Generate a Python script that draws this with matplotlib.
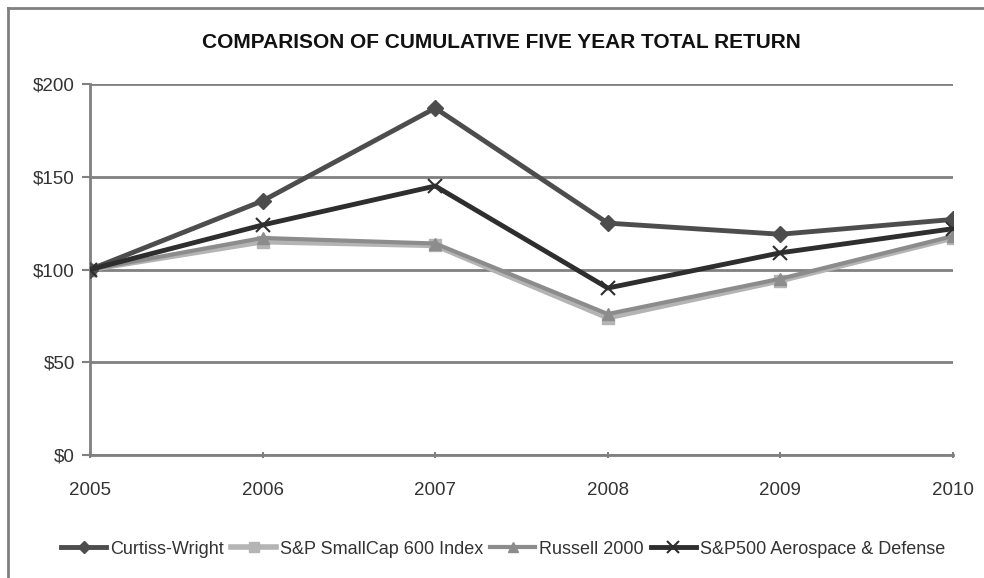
import matplotlib
matplotlib.use("Agg")
import matplotlib.pyplot as plt
from matplotlib.lines import Line2D

years = ["2005", "2006", "2007", "2008", "2009", "2010"]
curtiss = [100, 137, 187, 125, 119, 127]
smallcap = [100, 115, 113, 74, 94, 117]
russell = [100, 117, 114, 76, 95, 118]
aero = [100, 124, 145, 90, 109, 122]
yticks = [0, 50, 100, 150, 200]
ytick_labels = ["$0", "$50", "$100", "$150", "$200"]

fig = plt.figure(figsize=(9.84, 5.78), dpi=100)
ax = fig.add_axes([90/984, 1-455/578, (953-90)/984, (455-84)/578])

x = list(range(len(years)))
ax.plot(x, smallcap, color="#b4b4b4", lw=4, marker="s", ms=9, label="S&P SmallCap 600 Index", zorder=3)
ax.plot(x, russell, color="#8c8c8c", lw=3, marker="^", ms=9, label="Russell 2000", zorder=4)
ax.plot(x, curtiss, color="#4d4d4d", lw=3.5, marker="D", ms=8, label="Curtiss-Wright", zorder=5)
ax.plot(x, aero, color="#2e2e2e", lw=3.5, marker="x", ms=10, mew=1.5, label="S&P500 Aerospace & Defense", zorder=6)

ax.set_xlim(0, 5)
ax.set_ylim(0, 200)
ax.set_yticks(yticks)
ax.set_yticklabels(ytick_labels)
ax.set_xticks(x)
ax.set_xticklabels(years)
ax.grid(axis="y", color="#808080", lw=2)
ax.set_axisbelow(True)
for s in ["top", "right"]:
    ax.spines[s].set_visible(False)
for s in ["left", "bottom"]:
    ax.spines[s].set_color("#808080")
    ax.spines[s].set_linewidth(2)
ax.tick_params(axis="y", length=6, width=1.5, color="#808080", labelsize=13.5, pad=5, labelcolor="#333333")
ax.tick_params(axis="x", length=5, width=1.5, color="#808080", labelsize=13.5, pad=17, labelcolor="#333333", direction="inout")
for lab in ax.get_xticklabels() + ax.get_yticklabels():
    lab.set_fontfamily("Liberation Sans")

fig.text(501/984, 1-42/578, "COMPARISON OF CUMULATIVE FIVE YEAR TOTAL RETURN",
         ha="center", va="center", fontsize=15, fontweight="bold", family="Liberation Sans", color="#111111")

handles, labels = ax.get_legend_handles_labels()
order = [2, 0, 1, 3]
leg = fig.legend([handles[i] for i in order], [labels[i] for i in order],
                 loc="center", bbox_to_anchor=(503/984, 1-549/578), ncol=4, frameon=False,
                 prop={"family": "Liberation Sans", "size": 13}, handlelength=2.5, columnspacing=0.4,
                 handletextpad=0.2, markerscale=0.8)
for t in leg.get_texts():
    t.set_color("#333333")

fig.add_artist(Line2D([8/984, 8/984], [0, 1-8/578], color="#808080", lw=2, transform=fig.transFigure))
fig.add_artist(Line2D([8/984, 1], [1-8/578, 1-8/578], color="#808080", lw=2, transform=fig.transFigure))

fig.savefig("out.png", dpi=100)
